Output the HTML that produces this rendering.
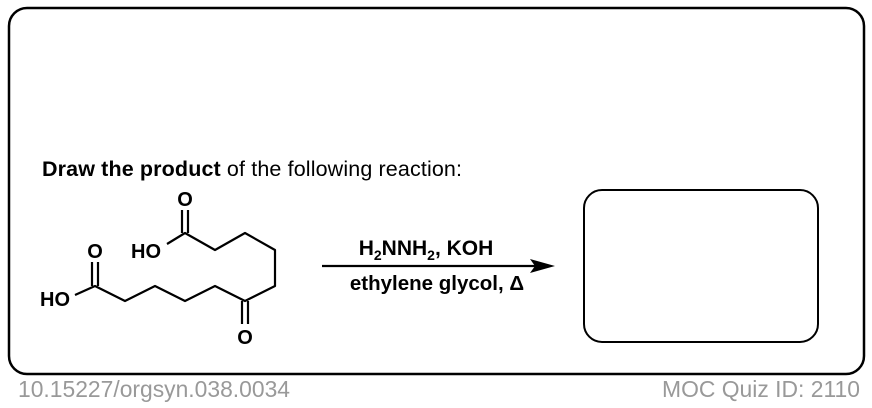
<!DOCTYPE html>
<html><head><style>
html,body{margin:0;padding:0;background:#fff;}
svg{display:block;}
</style></head><body>
<svg width="872" height="408" viewBox="0 0 872 408" xmlns="http://www.w3.org/2000/svg" font-family="Liberation Sans, Arial, sans-serif">
<rect x="9" y="8" width="855" height="366" rx="18" fill="none" stroke="#000" stroke-width="2.5"/>
<text x="42" y="176" font-size="21.5" fill="#000" textLength="420"><tspan font-weight="bold">Draw the product</tspan> of the following reaction:</text>
<rect x="584" y="190" width="234" height="152" rx="18" fill="none" stroke="#000" stroke-width="2"/>
<g stroke="#000" stroke-width="2.2" fill="none" stroke-linejoin="round">
<polyline points="75,295 95,286 125,301 155,286 185,301 215,286 245,301 275,286 275,250 245,233 215,250 185,233 167,244"/>
<line x1="92" y1="286" x2="92" y2="262"/><line x1="98" y1="286" x2="98" y2="262"/>
<line x1="242" y1="301" x2="242" y2="324"/><line x1="248" y1="301" x2="248" y2="324"/>
<line x1="182" y1="233" x2="182" y2="210"/><line x1="188" y1="233" x2="188" y2="210"/>
<line x1="322" y1="266" x2="535" y2="266"/>
</g>
<polygon points="555,266 530,259 535,266 530,273" fill="#000"/>
<g font-size="20" font-weight="bold" fill="#000" text-anchor="middle">
<text x="95" y="258">O</text>
<text x="245" y="344">O</text>
<text x="185" y="206">O</text>
<text x="55" y="306">HO</text>
<text x="146" y="258">HO</text>
</g>
<text x="426" y="255" font-size="21" font-weight="bold" text-anchor="middle">H<tspan font-size="14" dy="5">2</tspan><tspan dy="-5">NNH</tspan><tspan font-size="14" dy="5">2</tspan><tspan dy="-5">, KOH</tspan></text>
<text x="437" y="290" font-size="20.5" font-weight="bold" text-anchor="middle">ethylene glycol, Δ</text>
<text x="18" y="397" font-size="23" fill="#999" textLength="272" lengthAdjust="spacingAndGlyphs">10.15227/orgsyn.038.0034</text>
<text x="662" y="397" font-size="23" fill="#999" textLength="198" lengthAdjust="spacingAndGlyphs">MOC Quiz ID: 2110</text>
</svg>
</body></html>
